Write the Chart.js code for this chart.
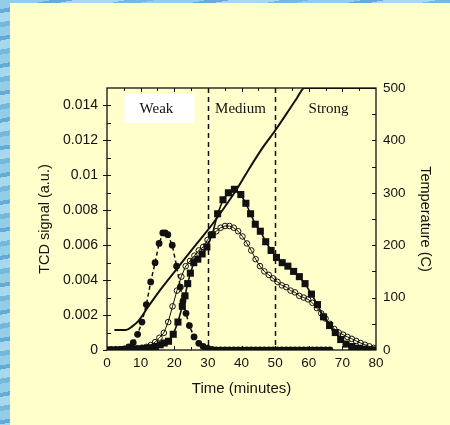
<!DOCTYPE html>
<html>
<head>
<meta charset="utf-8">
<script src="https://cdn.jsdelivr.net/npm/chart.js@4.4.1/dist/chart.umd.min.js"></script>
<style>
  html, body { margin: 0; padding: 0; }
  body {
    width: 450px; height: 425px; overflow: hidden; position: relative;
    background: #7cbfe0 repeating-linear-gradient(170deg, #93cde8 0 9px, #64acd6 9px 13px, #a6d8ee 13px 22px, #74b8dc 22px 27px);
  }
  #panel { position: absolute; left: 10px; top: 3px; width: 440px; height: 422px; background: #ffffcc; }
  #tcdChart { position: absolute; left: 0; top: 0; }
</style>
</head>
<body>
<div id="panel"></div>
<canvas id="tcdChart" width="450" height="425"></canvas>
<script>
// ---- axis ticks ----
const timeTicks = [0, 10, 20, 30, 40, 50, 60, 70, 80];
const tcdTicks = [0, 0.002, 0.004, 0.006, 0.008, 0.01, 0.012, 0.014];
const tempTicks = [0, 100, 200, 300, 400, 500];

// ---- acid strength regions ----
const regionBounds = [30, 50];
const regionNames = ['Weak', 'Medium', 'Strong'];

// ---- temperature ramp (right axis) ----
const tempTime   = [2.2, 5.6, 7.5, 9.3, 12.3, 15.3, 19.3, 23.2, 27.2, 31.2, 36.1, 39.1, 42.1, 46.5, 49.8, 53.5, 56.5, 58.7, 62, 70, 80];
const tempValues = [38, 38, 45, 55, 83, 110, 143, 175, 207, 239, 283, 312, 344, 388, 417, 452, 481, 500, 500, 500, 500];

// ---- filled circles, dashed line ----
const circlesTime = [0, 1.3, 2.6, 3.9, 5.2, 6.5, 7.8, 9.1, 10.4, 11.7, 13.0, 14.3, 15.5, 16.6, 17.3, 18.1,
  19.4, 20.7, 21.8, 22.6, 23.5, 24.5, 25.9, 27.3, 28.6, 29.9, 31.2,
  32.5, 33.8, 35.1, 36.4, 37.7, 39.0, 40.3, 41.6, 42.9, 44.2, 45.5, 46.8, 48.1, 49.4, 50.7, 52.0,
  53.3, 54.6, 55.9, 57.2, 58.5, 59.8, 61.1, 62.4, 63.7, 65.0, 66.3];
const circlesTcd = [0, 0, 0, 0.00002, 0.00006, 0.00018, 0.00042, 0.0009, 0.0016, 0.0026, 0.0039, 0.005, 0.0061, 0.0067, 0.0067, 0.0066,
  0.006, 0.0048, 0.0036, 0.0028, 0.0021, 0.0014, 0.00075, 0.00038, 0.0002, 0.0001, 0.00004,
  0, 0, 0, 0, 0, 0, 0, 0, 0, 0, 0, 0, 0, 0, 0, 0,
  0, 0, 0, 0, 0, 0, 0, 0, 0, 0, 0];

// ---- open circles, solid line ----
const openTime = [0, 1.3, 2.6, 3.9, 5.2, 6.5, 7.8, 9.1, 10.4, 11.7, 13.0, 14.3, 15.6, 16.9, 18.2, 19.5,
  20.8, 22.1, 23.4, 24.7, 26.0, 27.3, 28.6, 29.9, 31.2, 32.5, 33.8, 35.1, 36.4, 37.7, 39.0, 40.3,
  41.6, 42.9, 44.2, 45.5, 46.8, 48.1, 49.4, 50.7, 52.0, 53.3, 54.6, 55.9, 57.2, 58.5, 59.8, 61.1,
  62.4, 63.7, 65.0, 66.3, 67.6, 68.9, 70.2, 71.5, 72.8, 74.1, 75.4, 76.7, 78.0, 79.3];
const openTcd = [0, 0.00002, 0.00003, 0.00004, 0.00005, 0.00006, 0.00008, 0.0001, 0.00013, 0.00018, 0.00028, 0.00045, 0.0007, 0.00098, 0.0016, 0.0025,
  0.0034, 0.0042, 0.0048, 0.0051, 0.0054, 0.0057, 0.0059, 0.0063, 0.0066, 0.0068, 0.007, 0.0071, 0.0071, 0.007, 0.0068, 0.0065,
  0.0061, 0.0057, 0.0052, 0.0048, 0.0045, 0.0043, 0.0041, 0.0039, 0.0037, 0.0036, 0.0034, 0.0033, 0.0031, 0.003, 0.0029, 0.0027,
  0.0024, 0.0021, 0.0018, 0.0015, 0.0012, 0.001, 0.00088, 0.00075, 0.00064, 0.00052, 0.0004, 0.0003, 0.00021, 0.00012];

// ---- filled squares, solid line ----
const squaresTime = [0, 1.6, 3.2, 4.8, 6.4, 8, 9.6, 11.2, 12.8, 14.4, 15.8, 17, 18.3, 19.7, 21.1, 22.4, 23.2, 24, 24.8, 25.8,
  27, 28.3, 29.7, 31.3, 32.9, 34.5, 36.1, 37.9, 39.8, 41.3, 42.7, 44.1, 45.6, 47.2, 48.8, 50.4, 52.1, 53.8, 55.5, 57.2,
  58.9, 60.8, 62.6, 64.4, 66.2, 67.9, 69.5, 71.1, 72.8, 74.5, 76.3, 78.2, 80];
const squaresTcd = [0, 0, 0, 0.00002, 0.00003, 0.00004, 0.00006, 0.00009, 0.00013, 0.0002, 0.0003, 0.0004, 0.0005, 0.0009, 0.0016, 0.0025, 0.0031, 0.0038, 0.0044, 0.005,
  0.0052, 0.0055, 0.0059, 0.0066, 0.0078, 0.0086, 0.009, 0.0092, 0.0089, 0.0084, 0.0078, 0.0072, 0.0068, 0.0062, 0.0057, 0.0053, 0.005, 0.0048, 0.0045, 0.0042,
  0.0038, 0.0032, 0.0026, 0.0019, 0.0014, 0.001, 0.0006, 0.00034, 0.0002, 0.0001, 0.00005, 0.00002, 0];

const INK = '#111';
const SANS = "'Liberation Sans', Arial, sans-serif";
const SERIF = "'Liberation Serif', 'Times New Roman', serif";

function toPoints(xs, ys) {
    return xs.map((x, i) => ({ x: x, y: ys[i] }));
}

// frame, inner tick marks, dashed region lines and region labels
const framePlugin = {
    id: 'framePlugin',
    beforeDatasetsDraw(chart) {
        const { ctx, chartArea: a, scales } = chart;
        ctx.save();
        ctx.strokeStyle = INK;
        ctx.lineWidth = 1.5;
        ctx.setLineDash([5, 4]);
        regionBounds.forEach(t => {
            const x = Math.round(scales.x.getPixelForValue(t)) + 0.5;
            ctx.beginPath();
            ctx.moveTo(x, a.top);
            ctx.lineTo(x, a.bottom);
            ctx.stroke();
        });
        ctx.setLineDash([]);

        const edges = [0].concat(regionBounds, [80]);
        ctx.font = '15px ' + SERIF;
        ctx.textAlign = 'center';
        ctx.textBaseline = 'middle';
        regionNames.forEach((name, i) => {
            const cx = scales.x.getPixelForValue((edges[i] + edges[i + 1]) / 2);
            if (i === 0) {
                ctx.fillStyle = '#ffffff';
                ctx.fillRect(cx - 33, a.top + 6, 70, 29);
            }
            ctx.fillStyle = INK;
            ctx.fillText(name, cx + (i === 2 ? 3 : -1), a.top + 21);
        });
        ctx.restore();
    },
    afterDatasetsDraw(chart) {
        const { ctx, chartArea: a, scales } = chart;
        ctx.save();
        ctx.strokeStyle = INK;
        ctx.lineWidth = 1;
        ctx.beginPath();
        // left: every 0.001, inward
        for (let v = 0.001; v < 0.015; v += 0.001) {
            const y = Math.round(scales.y.getPixelForValue(v)) + 0.5;
            ctx.moveTo(a.left, y); ctx.lineTo(a.left + 4, y);
        }
        // right: every 50, inward
        for (let v = 50; v < 500; v += 50) {
            const y = Math.round(scales.yT.getPixelForValue(v)) + 0.5;
            ctx.moveTo(a.right, y); ctx.lineTo(a.right - 4, y);
        }
        // top and bottom: every 5 minutes, inward
        for (let t = 5; t < 80; t += 5) {
            const x = Math.round(scales.x.getPixelForValue(t)) + 0.5;
            const len = t % 10 === 0 ? 4 : 3;
            ctx.moveTo(x, a.top); ctx.lineTo(x, a.top + len);
            ctx.moveTo(x, a.bottom); ctx.lineTo(x, a.bottom - len);
        }
        ctx.stroke();
        ctx.lineWidth = 1.3;
        ctx.strokeRect(a.left, a.top, a.right - a.left, a.bottom - a.top);
        ctx.restore();
    }
};

const chart = new Chart(document.getElementById('tcdChart'), {
    type: 'line',
    data: {
        datasets: [
            {
                data: toPoints(circlesTime, circlesTcd),
                yAxisID: 'y',
                borderColor: INK, borderWidth: 1.5, borderDash: [4, 3],
                pointStyle: 'circle', pointRadius: 3.4, pointBackgroundColor: INK, pointBorderWidth: 0
            },
            {
                data: toPoints(openTime, openTcd),
                yAxisID: 'y',
                borderColor: INK, borderWidth: 1,
                pointStyle: 'circle', pointRadius: 2.8, pointBackgroundColor: 'rgba(0,0,0,0)',
                pointBorderColor: INK, pointBorderWidth: 1
            },
            {
                data: toPoints(squaresTime, squaresTcd),
                yAxisID: 'y',
                borderColor: INK, borderWidth: 1.6,
                pointStyle: 'rect', pointRadius: 5, pointBackgroundColor: INK, pointBorderWidth: 0
            },
            {
                data: toPoints(tempTime, tempValues),
                yAxisID: 'yT',
                borderColor: INK, borderWidth: 2,
                pointRadius: 0, cubicInterpolationMode: 'monotone'
            }
        ]
    },
    options: {
        responsive: false,
        animation: false,
        events: [],
        layout: { padding: { top: 88, left: 0, right: 0, bottom: 0 } },
        plugins: { legend: { display: false }, tooltip: { enabled: false } },
        scales: {
            x: {
                type: 'linear', min: 0, max: 80,
                afterBuildTicks: s => { s.ticks = timeTicks.map(v => ({ value: v })); },
                afterFit: s => { s.height = 75; },
                grid: { display: false, drawTicks: false },
                border: { display: false },
                ticks: { padding: 5, color: INK, font: { family: SANS, size: 13.5 }, maxRotation: 0 },
                title: { display: true, text: 'Time (minutes)', color: INK,
                         font: { family: SANS, size: 15 }, padding: { top: 0, bottom: 27 } }
            },
            y: {
                type: 'linear', position: 'left', min: 0, max: 0.015,
                afterBuildTicks: s => { s.ticks = tcdTicks.map(v => ({ value: v })); },
                afterFit: s => { s.width = 107; },
                grid: { drawOnChartArea: false, drawTicks: true, tickLength: 4, color: INK, lineWidth: 1 },
                border: { display: false },
                ticks: { padding: 5, color: INK, font: { family: SANS, size: 14 },
                         callback: v => String(+v.toFixed(3)) },
                title: { display: true, text: 'TCD signal (a.u.)', color: INK,
                         font: { family: SANS, size: 14.5 }, padding: { top: 36.6, bottom: 0 } }
            },
            yT: {
                type: 'linear', position: 'right', min: 0, max: 500,
                afterBuildTicks: s => { s.ticks = tempTicks.map(v => ({ value: v })); },
                afterFit: s => { s.width = 74; },
                grid: { display: false, drawTicks: false },
                border: { display: false },
                ticks: { padding: 7, color: INK, font: { family: SANS, size: 13.5 } },
                title: { display: true, text: 'Temperature (C)', color: INK,
                         font: { family: SANS, size: 14.5 }, padding: { top: 16.3, bottom: 0 } }
            }
        }
    },
    plugins: [framePlugin]
});
</script>
</body>
</html>
